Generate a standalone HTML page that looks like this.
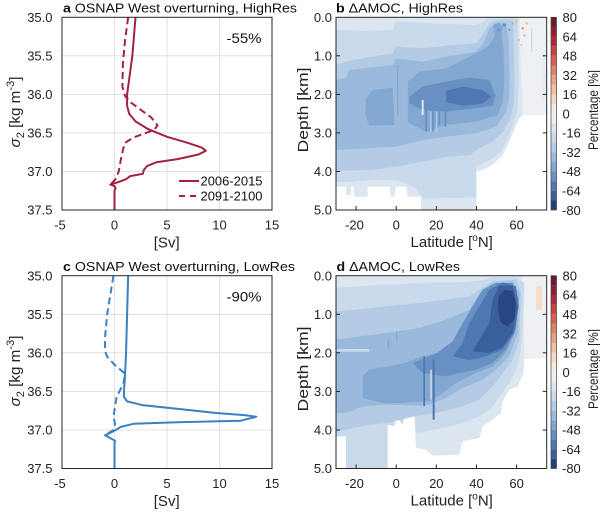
<!DOCTYPE html>
<html><head><meta charset="utf-8"><style>
html,body{margin:0;padding:0;background:#fff;}
svg{display:block;font-family:"Liberation Sans",Arial,sans-serif;}
</style></head><body>
<svg width="600" height="514" viewBox="0 0 600 514" xmlns="http://www.w3.org/2000/svg">
<rect width="600" height="514" fill="#fff"/>

<!-- ============ PANEL A ============ -->
<g stroke="#dadada" stroke-width="0.8">
<line x1="114.5" y1="17.3" x2="114.5" y2="210"/><line x1="167" y1="17.3" x2="167" y2="210"/><line x1="219.5" y1="17.3" x2="219.5" y2="210"/>
<line x1="62" y1="55.8" x2="272" y2="55.8"/><line x1="62" y1="94.4" x2="272" y2="94.4"/><line x1="62" y1="132.9" x2="272" y2="132.9"/><line x1="62" y1="171.5" x2="272" y2="171.5"/>
</g>
<polyline fill="none" stroke="#a3223f" stroke-width="2" stroke-linejoin="round" points="135.5,17.3 132.35,55.8 129.2,79 127.1,94.4 127.1,105.9 129.2,113.7 135.5,121.4 148.1,129.1 167,136.8 188,142.9 201.65,147.6 205.85,150.7 198.5,154.5 177.5,159.1 156.5,162.2 147.05,166.1 143.9,169.9 142.85,173.8 130.25,176.1 126.05,179.2 117.65,182.3 110.3,184.6 114.5,186.1 115.55,188.4 114.5,190.7 114.5,210"/>
<polyline fill="none" stroke="#a3223f" stroke-width="2" stroke-dasharray="7 4" stroke-linejoin="round" points="128.15,17.3 125,40.4 122.9,63.5 122.4,86.7 125,95.9 130.25,102.1 140.75,109.8 151.25,117.5 157.55,125.2 154.4,129.8 146,132.9 133.4,137.5 125,142.9 122.9,149.9 120.8,159.9 118.7,171.5 115.55,179.2 110.3,184.6"/>
<rect x="62" y="17.3" width="210" height="192.7" fill="none" stroke="#262626" stroke-width="1"/>
<text x="261.5" y="43" font-size="14" text-anchor="end" fill="#111" textLength="35" lengthAdjust="spacingAndGlyphs">-55%</text>
<line x1="179" y1="181" x2="199" y2="181" stroke="#a3223f" stroke-width="2"/>
<line x1="179" y1="196" x2="199" y2="196" stroke="#a3223f" stroke-width="2" stroke-dasharray="6 5"/>
<text x="200.5" y="185.5" font-size="13" fill="#111" textLength="62" lengthAdjust="spacingAndGlyphs">2006-2015</text>
<text x="200.5" y="200.5" font-size="13" fill="#111" textLength="62" lengthAdjust="spacingAndGlyphs">2091-2100</text>
<text x="63" y="12.5" font-size="13" fill="#111" textLength="234" lengthAdjust="spacingAndGlyphs"><tspan font-weight="bold">a</tspan> OSNAP West overturning, HighRes</text>
<g font-size="13" fill="#222" text-anchor="end">
<text x="52.5" y="22">35.0</text><text x="52.5" y="60.5">35.5</text><text x="52.5" y="99.1">36.0</text><text x="52.5" y="137.6">36.5</text><text x="52.5" y="176.2">37.0</text><text x="52.5" y="214.7">37.5</text>
</g>
<g font-size="13" fill="#222" text-anchor="middle">
<text x="60" y="229.5">-5</text><text x="114.5" y="229.5">0</text><text x="167" y="229.5">5</text><text x="219.5" y="229.5">10</text><text x="272" y="229.5">15</text>
</g>
<text x="166.7" y="247.5" font-size="15" text-anchor="middle" fill="#222">[Sv]</text>
<text transform="translate(20,112) rotate(-90)" font-size="15" fill="#222" text-anchor="middle" textLength="71" lengthAdjust="spacingAndGlyphs"><tspan font-style="italic">σ</tspan><tspan dy="4" font-size="11">2</tspan><tspan dy="-4"> [kg m</tspan><tspan dy="-6" font-size="11">-3</tspan><tspan dy="6">]</tspan></text>

<!-- ============ PANEL C ============ -->
<g stroke="#dadada" stroke-width="0.8">
<line x1="114.5" y1="275.7" x2="114.5" y2="468.5"/><line x1="167" y1="275.7" x2="167" y2="468.5"/><line x1="219.5" y1="275.7" x2="219.5" y2="468.5"/>
<line x1="62" y1="314.3" x2="272" y2="314.3"/><line x1="62" y1="352.8" x2="272" y2="352.8"/><line x1="62" y1="391.4" x2="272" y2="391.4"/><line x1="62" y1="430" x2="272" y2="430"/>
</g>
<polyline fill="none" stroke="#3a80c3" stroke-width="2" stroke-linejoin="round" points="128.15,275.7 127.1,314.3 126.05,352.8 125,376 123.95,391.4 123.95,396.8 127.1,401.4 143.4,405.3 173.3,408.4 216.35,413 245.75,415.3 256.25,416.8 240.5,420.7 177.5,422.2 133.4,423.8 120.8,426.9 114.5,430.7 105.05,435.3 115,440.7 114.5,443.8 114.5,468.5"/>
<polyline fill="none" stroke="#3a80c3" stroke-width="2" stroke-dasharray="7 4" stroke-linejoin="round" points="113.45,275.7 110.3,295 107.15,314.3 105.05,337.4 105.05,351.3 107.15,356.7 115,365.2 125,373.6 123.4,383.7 121.85,386.8 116.6,396.8 115,406.8 113.45,416.8 115,423.8 113.45,430 105.05,435.3"/>
<rect x="62" y="275.7" width="210" height="192.8" fill="none" stroke="#262626" stroke-width="1"/>
<text x="261.5" y="301.5" font-size="14" text-anchor="end" fill="#111" textLength="35" lengthAdjust="spacingAndGlyphs">-90%</text>
<text x="63" y="271" font-size="13" fill="#111" textLength="232" lengthAdjust="spacingAndGlyphs"><tspan font-weight="bold">c</tspan> OSNAP West overturning, LowRes</text>
<g font-size="13" fill="#222" text-anchor="end">
<text x="52.5" y="280.4">35.0</text><text x="52.5" y="319">35.5</text><text x="52.5" y="357.5">36.0</text><text x="52.5" y="396.1">36.5</text><text x="52.5" y="434.7">37.0</text><text x="52.5" y="473.2">37.5</text>
</g>
<g font-size="13" fill="#222" text-anchor="middle">
<text x="60" y="488">-5</text><text x="114.5" y="488">0</text><text x="167" y="488">5</text><text x="219.5" y="488">10</text><text x="272" y="488">15</text>
</g>
<text x="166.7" y="506" font-size="15" text-anchor="middle" fill="#222">[Sv]</text>
<text transform="translate(20,371) rotate(-90)" font-size="15" fill="#222" text-anchor="middle" textLength="71" lengthAdjust="spacingAndGlyphs"><tspan font-style="italic">σ</tspan><tspan dy="4" font-size="11">2</tspan><tspan dy="-4"> [kg m</tspan><tspan dy="-6" font-size="11">-3</tspan><tspan dy="6">]</tspan></text>

<!-- ============ PANEL B ============ -->
<svg x="336" y="17.3" width="210.7" height="192.7" viewBox="0 6.9 632 578" preserveAspectRatio="none">
<rect x="0" y="0" width="640" height="600" fill="#fff"/>
<polygon fill="#dce6f0" points="0,0 640,0 640,300 560,300 550,310 538,335 520,380 500,420 470,450 440,465 422,470 422,600 255,600 255,545 215,545 210,515 180,515 175,545 165,545 160,515 95,515 95,545 55,545 52,515 45,515 45,540 30,540 30,515 0,515"/>
<polygon fill="#eef0f3" points="550,0 640,0 640,300 560,300 556,200 552,100"/>
<rect x="620" y="120" width="8" height="130" fill="#e3eaf2"/>
<polygon fill="#c8daec" points="0,45 90,48 170,45 180,20 300,25 420,30 450,15 470,0 545,0 546,60 548,200 545,290 535,315 525,345 512,380 495,410 470,430 440,445 420,455 420,545 380,548 260,550 240,520 210,505 180,495 100,495 50,500 0,500"/>
<polygon fill="#b3cbe5" points="0,150 30,140 90,128 170,115 180,95 260,100 330,92 420,85 440,60 460,25 490,15 530,15 533,70 535,200 533,270 522,310 505,345 470,380 430,400 400,420 330,425 260,440 180,455 100,465 0,468"/>
<polygon fill="#9bbadb" points="0,195 30,188 40,165 100,158 170,150 180,130 260,140 330,125 420,110 445,80 460,40 480,25 510,25 518,80 520,150 520,250 508,295 480,335 420,355 330,365 260,375 180,395 90,400 0,405"/>
<polygon fill="#82a7d0" points="90,250 110,225 170,218 175,330 100,332 88,300"/>
<polygon fill="#82a7d0" points="215,200 250,170 330,160 400,125 440,105 460,90 478,60 495,55 502,100 505,200 500,260 485,300 420,320 330,330 270,350 230,330 215,320"/>
<polygon fill="#6890c3" points="220,245 260,215 330,200 400,188 460,195 478,240 470,272 400,282 330,290 260,285 220,265"/>
<polygon fill="#4f78b3" points="330,228 380,215 440,225 465,245 440,265 380,272 330,262"/>
<rect x="183" y="150" width="4" height="150" fill="#82a7d0"/>
<rect x="268" y="240" width="5" height="110" fill="#6890c3"/>
<rect x="288" y="245" width="5" height="105" fill="#6890c3"/>
<rect x="308" y="250" width="4" height="80" fill="#6890c3"/>
<rect x="326" y="245" width="5" height="90" fill="#6890c3"/>
<rect x="257" y="255" width="6" height="45" fill="#dce6f0"/>
<rect x="282" y="290" width="4" height="60" fill="#b3cbe5"/>
<rect x="300" y="290" width="4" height="60" fill="#b3cbe5"/>
<polygon fill="#82a7d0" points="470,30 490,22 500,40 495,65 480,70"/>
<circle cx="505" cy="30" r="5" fill="#6890c3"/><circle cx="520" cy="45" r="4" fill="#82a7d0"/>
<circle cx="488" cy="45" r="4" fill="#6890c3"/><circle cx="530" cy="25" r="4" fill="#9bbadb"/>
<circle cx="540" cy="20" r="5" fill="#f0c0a2"/><circle cx="560" cy="40" r="4" fill="#e8a283"/>
<circle cx="548" cy="75" r="4" fill="#f0c0a2"/><circle cx="572" cy="25" r="4" fill="#f0c0a2"/>
<circle cx="565" cy="62" r="3" fill="#e8a283"/><circle cx="556" cy="90" r="3" fill="#f0c0a2"/>
<rect x="585" y="40" width="4" height="70" fill="#c8daec"/>
</svg>
<rect x="336" y="17.3" width="210.7" height="192.7" fill="none" stroke="#262626" stroke-width="1"/>
<g stroke="#262626" stroke-width="1">
<line x1="356.1" y1="210" x2="356.1" y2="206"/><line x1="396.2" y1="210" x2="396.2" y2="206"/><line x1="436.3" y1="210" x2="436.3" y2="206"/><line x1="476.5" y1="210" x2="476.5" y2="206"/><line x1="516.6" y1="210" x2="516.6" y2="206"/>
<line x1="336" y1="55.8" x2="340" y2="55.8"/><line x1="336" y1="94.4" x2="340" y2="94.4"/><line x1="336" y1="132.9" x2="340" y2="132.9"/><line x1="336" y1="171.5" x2="340" y2="171.5"/>
<line x1="546.7" y1="55.8" x2="542.7" y2="55.8"/><line x1="546.7" y1="94.4" x2="542.7" y2="94.4"/><line x1="546.7" y1="132.9" x2="542.7" y2="132.9"/><line x1="546.7" y1="171.5" x2="542.7" y2="171.5"/>
</g>
<text x="336" y="12.5" font-size="13" fill="#111" textLength="127" lengthAdjust="spacingAndGlyphs"><tspan font-weight="bold">b</tspan> ΔAMOC, HighRes</text>
<g font-size="13" fill="#222" text-anchor="end">
<text x="332" y="22">0.0</text><text x="332" y="60.5">1.0</text><text x="332" y="99.1">2.0</text><text x="332" y="137.6">3.0</text><text x="332" y="176.2">4.0</text><text x="332" y="214.7">5.0</text>
</g>
<g font-size="13" fill="#222" text-anchor="middle">
<text x="354.5" y="229.5">-20</text><text x="396.2" y="229.5">0</text><text x="436.3" y="229.5">20</text><text x="476.5" y="229.5">40</text><text x="516.6" y="229.5">60</text>
</g>
<text x="451.7" y="247" font-size="15" fill="#222" text-anchor="middle">Latitude [<tspan dy="-6" font-size="10">o</tspan><tspan dy="6">N]</tspan></text>
<text transform="translate(308,110) rotate(-90)" font-size="15" fill="#222" text-anchor="middle" textLength="85" lengthAdjust="spacingAndGlyphs">Depth [km]</text>

<!-- colorbar B -->
<g>
<rect x="551" y="17.3" width="5.5" height="9.64" fill="#6b1a2b"/>
<rect x="551" y="26.94" width="5.5" height="9.64" fill="#8e1f31"/>
<rect x="551" y="36.58" width="5.5" height="9.64" fill="#ab2a3b"/>
<rect x="551" y="46.22" width="5.5" height="9.64" fill="#c24443"/>
<rect x="551" y="55.86" width="5.5" height="9.64" fill="#d26250"/>
<rect x="551" y="65.5" width="5.5" height="9.64" fill="#de8368"/>
<rect x="551" y="75.14" width="5.5" height="9.64" fill="#e8a283"/>
<rect x="551" y="84.78" width="5.5" height="9.64" fill="#f0c0a2"/>
<rect x="551" y="94.42" width="5.5" height="9.64" fill="#f5d9c5"/>
<rect x="551" y="104.06" width="5.5" height="9.64" fill="#f6ebe3"/>
<rect x="551" y="113.7" width="5.5" height="9.64" fill="#eef0f3"/>
<rect x="551" y="123.34" width="5.5" height="9.64" fill="#dce6f0"/>
<rect x="551" y="132.98" width="5.5" height="9.64" fill="#c8daec"/>
<rect x="551" y="142.62" width="5.5" height="9.64" fill="#b3cbe5"/>
<rect x="551" y="152.26" width="5.5" height="9.64" fill="#9bbadb"/>
<rect x="551" y="161.9" width="5.5" height="9.64" fill="#82a7d0"/>
<rect x="551" y="171.54" width="5.5" height="9.64" fill="#6890c3"/>
<rect x="551" y="181.18" width="5.5" height="9.64" fill="#4f78b3"/>
<rect x="551" y="190.82" width="5.5" height="9.64" fill="#395f9c"/>
<rect x="551" y="200.46" width="5.5" height="9.64" fill="#243f77"/>
<rect x="551" y="17.3" width="5.5" height="192.7" fill="none" stroke="#444" stroke-width="0.7"/>
</g>
<g font-size="13" fill="#222">
<text x="562.5" y="22">80</text><text x="562.5" y="41.3">64</text><text x="562.5" y="60.6">48</text><text x="562.5" y="79.9">32</text><text x="562.5" y="99.1">16</text><text x="562.5" y="118.4">0</text><text x="562" y="137.7">-16</text><text x="562" y="157">-32</text><text x="562" y="176.2">-48</text><text x="562" y="195.5">-64</text><text x="562" y="214.8">-80</text>
</g>
<text transform="translate(598,110) rotate(-90)" font-size="13.5" fill="#222" text-anchor="middle" textLength="80" lengthAdjust="spacingAndGlyphs">Percentage [%]</text>

<!-- ============ PANEL D ============ -->
<svg x="336" y="275.7" width="210.7" height="192.8" viewBox="0 8.1 632 578.4" preserveAspectRatio="none">
<rect x="0" y="0" width="640" height="600" fill="#fff"/>
<polygon fill="#dce6f0" points="0,0 640,0 640,255 565,258 562,300 545,340 520,350 500,385 495,420 470,440 440,460 430,495 380,505 370,545 290,548 270,530 240,525 235,430 205,430 200,455 180,430 175,460 155,455 155,600 30,600 30,490 0,490"/>
<polygon fill="#eef0f3" points="560,0 640,0 640,255 565,258 562,150"/>
<rect x="600" y="40" width="18" height="70" fill="#f3dccb"/>
<circle cx="532" cy="16" r="5" fill="#f0c0a2"/>
<polygon fill="#c8daec" points="0,45 100,38 200,33 300,28 380,28 440,22 470,12 540,12 565,30 562,130 555,230 540,290 520,330 495,365 470,400 430,430 380,450 300,470 240,480 235,430 205,430 200,455 180,430 175,460 155,455 155,600 30,600 30,490 0,490"/>
<polygon fill="#b3cbe5" points="0,115 60,110 150,100 250,90 330,80 400,70 440,45 470,25 540,20 555,60 550,200 530,260 500,300 470,340 430,380 380,400 300,420 235,430 155,450 100,455 30,470 0,475"/>
<polygon fill="#9bbadb" points="0,200 60,192 150,180 250,165 330,140 400,110 430,60 470,30 530,25 550,60 545,180 520,250 480,290 440,320 380,345 320,380 280,395 250,398 150,395 80,400 30,420 0,420"/>
<rect x="0" y="228" width="100" height="8" fill="#c8daec"/>
<polygon fill="#82a7d0" points="80,310 100,290 200,272 260,250 330,232 370,200 400,150 430,80 470,35 520,30 545,70 540,170 510,240 470,280 420,300 360,330 320,360 280,385 150,392 80,375"/>
<polygon fill="#6890c3" points="230,270 300,242 350,205 380,150 410,100 440,50 480,30 530,30 548,80 540,160 510,230 470,270 420,290 370,300 330,310 260,300"/>
<polygon fill="#4f78b3" points="350,250 380,210 400,150 430,100 460,50 500,28 540,40 548,100 535,180 500,230 450,250 400,262"/>
<polygon fill="#395f9c" points="410,235 430,200 460,150 470,80 490,38 530,38 545,100 530,180 500,222 460,240"/>
<polygon fill="#2a4682" points="488,70 505,50 530,55 540,90 535,140 515,160 495,150 485,110"/>
<rect x="262" y="250" width="5" height="150" fill="#4f78b3"/>
<rect x="290" y="260" width="6" height="180" fill="#4f78b3"/>
<rect x="283" y="290" width="4" height="90" fill="#dce6f0"/>
<rect x="155" y="200" width="5" height="25" fill="#82a7d0"/>
<rect x="180" y="175" width="4" height="25" fill="#82a7d0"/>
</svg>
<rect x="336" y="275.7" width="210.7" height="192.8" fill="none" stroke="#262626" stroke-width="1"/>
<g stroke="#262626" stroke-width="1">
<line x1="356.1" y1="468.5" x2="356.1" y2="464.5"/><line x1="396.2" y1="468.5" x2="396.2" y2="464.5"/><line x1="436.3" y1="468.5" x2="436.3" y2="464.5"/><line x1="476.5" y1="468.5" x2="476.5" y2="464.5"/><line x1="516.6" y1="468.5" x2="516.6" y2="464.5"/>
<line x1="336" y1="314.3" x2="340" y2="314.3"/><line x1="336" y1="352.8" x2="340" y2="352.8"/><line x1="336" y1="391.4" x2="340" y2="391.4"/><line x1="336" y1="430" x2="340" y2="430"/>
<line x1="546.7" y1="314.3" x2="542.7" y2="314.3"/><line x1="546.7" y1="352.8" x2="542.7" y2="352.8"/><line x1="546.7" y1="391.4" x2="542.7" y2="391.4"/><line x1="546.7" y1="430" x2="542.7" y2="430"/>
</g>
<text x="336.5" y="271" font-size="13" fill="#111" textLength="123.5" lengthAdjust="spacingAndGlyphs"><tspan font-weight="bold">d</tspan> ΔAMOC, LowRes</text>
<g font-size="13" fill="#222" text-anchor="end">
<text x="332" y="280.4">0.0</text><text x="332" y="319">1.0</text><text x="332" y="357.5">2.0</text><text x="332" y="396.1">3.0</text><text x="332" y="434.7">4.0</text><text x="332" y="473.2">5.0</text>
</g>
<g font-size="13" fill="#222" text-anchor="middle">
<text x="354.5" y="488">-20</text><text x="396.2" y="488">0</text><text x="436.3" y="488">20</text><text x="476.5" y="488">40</text><text x="516.6" y="488">60</text>
</g>
<text x="451.7" y="505.5" font-size="15" fill="#222" text-anchor="middle">Latitude [<tspan dy="-6" font-size="10">o</tspan><tspan dy="6">N]</tspan></text>
<text transform="translate(308,369) rotate(-90)" font-size="15" fill="#222" text-anchor="middle" textLength="85" lengthAdjust="spacingAndGlyphs">Depth [km]</text>

<!-- colorbar D -->
<g>
<rect x="551" y="275.7" width="5.5" height="9.64" fill="#6b1a2b"/>
<rect x="551" y="285.34" width="5.5" height="9.64" fill="#8e1f31"/>
<rect x="551" y="294.98" width="5.5" height="9.64" fill="#ab2a3b"/>
<rect x="551" y="304.62" width="5.5" height="9.64" fill="#c24443"/>
<rect x="551" y="314.26" width="5.5" height="9.64" fill="#d26250"/>
<rect x="551" y="323.9" width="5.5" height="9.64" fill="#de8368"/>
<rect x="551" y="333.54" width="5.5" height="9.64" fill="#e8a283"/>
<rect x="551" y="343.18" width="5.5" height="9.64" fill="#f0c0a2"/>
<rect x="551" y="352.82" width="5.5" height="9.64" fill="#f5d9c5"/>
<rect x="551" y="362.46" width="5.5" height="9.64" fill="#f6ebe3"/>
<rect x="551" y="372.1" width="5.5" height="9.64" fill="#eef0f3"/>
<rect x="551" y="381.74" width="5.5" height="9.64" fill="#dce6f0"/>
<rect x="551" y="391.38" width="5.5" height="9.64" fill="#c8daec"/>
<rect x="551" y="401.02" width="5.5" height="9.64" fill="#b3cbe5"/>
<rect x="551" y="410.66" width="5.5" height="9.64" fill="#9bbadb"/>
<rect x="551" y="420.3" width="5.5" height="9.64" fill="#82a7d0"/>
<rect x="551" y="429.94" width="5.5" height="9.64" fill="#6890c3"/>
<rect x="551" y="439.58" width="5.5" height="9.64" fill="#4f78b3"/>
<rect x="551" y="449.22" width="5.5" height="9.64" fill="#395f9c"/>
<rect x="551" y="458.86" width="5.5" height="9.64" fill="#243f77"/>
<rect x="551" y="275.7" width="5.5" height="192.8" fill="none" stroke="#444" stroke-width="0.7"/>
</g>
<g font-size="13" fill="#222">
<text x="562.5" y="280.4">80</text><text x="562.5" y="299.7">64</text><text x="562.5" y="319">48</text><text x="562.5" y="338.3">32</text><text x="562.5" y="357.5">16</text><text x="562.5" y="376.8">0</text><text x="562" y="396.1">-16</text><text x="562" y="415.4">-32</text><text x="562" y="434.6">-48</text><text x="562" y="453.9">-64</text><text x="562" y="473.2">-80</text>
</g>
<text transform="translate(598,369) rotate(-90)" font-size="13.5" fill="#222" text-anchor="middle" textLength="80" lengthAdjust="spacingAndGlyphs">Percentage [%]</text>
</svg>
</body></html>
